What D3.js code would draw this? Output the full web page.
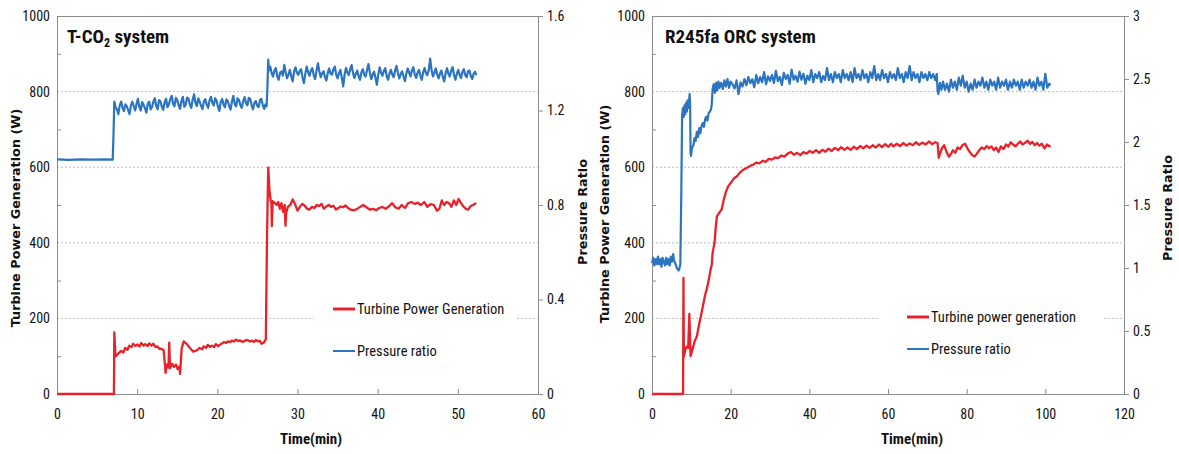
<!DOCTYPE html>
<html><head><meta charset="utf-8">
<script src="https://cdn.jsdelivr.net/npm/d3@7"></script>
<style>body{margin:0;background:#fff}svg{display:block}</style>
</head><body><svg id="c" width="1179" height="454"></svg>
<script>
// ---------- data ----------
const powerTicks = [0, 200, 400, 600, 800, 1000];
const powerMinorTicks = [100, 300, 500, 700, 900];
const gridTicks = [200, 400, 600, 800];
const tco2TimeTicks = [0, 10, 20, 30, 40, 50, 60];
const orcTimeTicks = [0, 20, 40, 60, 80, 100, 120];
const tco2RatioTicks = [0, 0.4, 0.8, 1.2, 1.6];
const orcRatioTicks = [0, 0.5, 1, 1.5, 2, 2.5, 3];
const tco2Legend = ["Turbine Power Generation", "Pressure ratio"];
const orcLegend = ["Turbine power generation", "Pressure ratio"];

// T-CO2: time (min), turbine power (W)
const tco2Power = [[0,0],[7.1,0],[7.15,163],[7.3,99],[7.6,106],[8.0,114],[8.3,110],[8.5,122],[8.8,117],[9.0,128],[9.3,124],[9.5,133],[9.8,127],[10.0,131],[10.3,126],[10.5,135],[10.8,128],[11.0,132],[11.3,127],[11.5,134],[11.8,128],[12.0,133],[12.3,124],[12.5,126],[12.8,119],[13.0,120],[13.3,116],[13.45,80],[13.55,56],[13.7,78],[13.9,70],[14.0,136],[14.1,68],[14.35,80],[14.6,72],[14.85,78],[15.05,66],[15.25,72],[15.35,53],[15.55,120],[15.8,139],[16.1,134],[16.5,124],[17.0,112],[17.4,115],[17.8,122],[18.1,118],[18.3,126],[18.6,122],[18.8,130],[19.1,125],[19.3,128],[19.6,124],[19.8,132],[20.1,127],[20.3,130],[20.6,134],[20.8,137],[21.1,135],[21.3,139],[21.6,137],[21.8,141],[22.1,139],[22.3,144],[22.6,140],[22.8,142],[23.1,138],[23.3,139],[23.6,143],[23.8,142],[24.1,139],[24.3,141],[24.6,138],[24.8,143],[25.1,139],[25.3,141],[25.5,133],[25.8,136],[26.05,145],[26.2,420],[26.35,599],[26.5,540],[26.65,512],[26.75,505],[26.8,444],[26.9,510],[27.2,505],[27.4,500],[27.6,508],[27.8,490],[28.0,505],[28.2,482],[28.4,500],[28.5,445],[28.6,480],[28.8,495],[29.1,500],[29.4,515],[29.7,502],[30.0,485],[30.3,495],[30.6,503],[30.9,498],[31.2,490],[31.5,488],[31.8,495],[32.1,492],[32.4,500],[32.7,497],[33.0,503],[33.3,490],[33.6,496],[33.9,500],[34.2,495],[34.5,498],[34.8,488],[35.1,492],[35.4,496],[35.7,494],[36.0,499],[36.3,492],[36.6,488],[37.0,486],[37.4,489],[37.8,495],[38.2,500],[38.6,494],[39.0,488],[39.4,490],[39.8,486],[40.2,492],[40.6,495],[41.0,490],[41.4,496],[41.8,505],[42.2,494],[42.6,490],[43.0,500],[43.4,492],[43.8,505],[44.2,508],[44.6,503],[45.0,506],[45.4,500],[45.8,508],[46.2,495],[46.6,502],[47.0,500],[47.4,485],[47.7,490],[48.0,512],[48.3,500],[48.6,508],[48.9,505],[49.2,495],[49.5,512],[49.8,500],[50.1,516],[50.4,505],[50.7,496],[51.0,490],[51.3,488],[51.6,497],[51.9,500],[52.3,505]];

// T-CO2: time (min), pressure ratio
const tco2Ratio = [[0,0.993],[1.5,0.991],[3,0.993],[4.5,0.992],[6,0.993],[6.95,0.992],[7.05,1.10],[7.15,1.238],[7.3,1.215],[7.475,1.205],[7.65,1.184],[7.825,1.222],[8.0,1.238],[8.175,1.212],[8.35,1.197],[8.525,1.226],[8.7,1.219],[8.875,1.201],[9.05,1.185],[9.225,1.222],[9.4,1.237],[9.575,1.218],[9.75,1.2],[9.925,1.228],[10.1,1.249],[10.275,1.214],[10.45,1.2],[10.625,1.236],[10.8,1.224],[10.975,1.209],[11.15,1.191],[11.325,1.229],[11.5,1.237],[11.675,1.205],[11.85,1.214],[12.025,1.238],[12.2,1.252],[12.375,1.22],[12.55,1.205],[12.725,1.244],[12.9,1.239],[13.075,1.216],[13.25,1.203],[13.425,1.235],[13.6,1.25],[13.775,1.214],[13.95,1.225],[14.125,1.247],[14.3,1.262],[14.475,1.229],[14.65,1.218],[14.825,1.253],[15.0,1.244],[15.175,1.222],[15.35,1.207],[15.525,1.24],[15.7,1.258],[15.875,1.216],[16.05,1.224],[16.225,1.255],[16.4,1.25],[16.575,1.225],[16.75,1.211],[16.925,1.246],[17.1,1.268],[17.275,1.232],[17.45,1.219],[17.625,1.251],[17.8,1.237],[17.975,1.22],[18.15,1.206],[18.325,1.238],[18.5,1.248],[18.675,1.224],[18.85,1.211],[19.025,1.243],[19.2,1.258],[19.375,1.233],[19.55,1.221],[19.725,1.252],[19.9,1.242],[20.075,1.217],[20.25,1.198],[20.425,1.236],[20.6,1.249],[20.775,1.225],[20.95,1.214],[21.125,1.247],[21.3,1.24],[21.475,1.219],[21.65,1.204],[21.825,1.238],[22.0,1.262],[22.175,1.226],[22.35,1.218],[22.525,1.252],[22.7,1.245],[22.875,1.222],[23.05,1.211],[23.225,1.24],[23.4,1.257],[23.575,1.231],[23.75,1.222],[23.925,1.254],[24.1,1.249],[24.275,1.223],[24.45,1.205],[24.625,1.233],[24.8,1.24],[24.975,1.22],[25.15,1.214],[25.325,1.245],[25.5,1.249],[25.675,1.221],[25.85,1.207],[26.0,1.226],[26.15,1.218],[26.25,1.30],[26.35,1.415],[26.45,1.37],[26.6,1.386],[26.775,1.358],[26.95,1.344],[27.125,1.37],[27.3,1.379],[27.475,1.345],[27.65,1.33],[27.825,1.36],[28.0,1.365],[28.175,1.348],[28.35,1.393],[28.525,1.362],[28.7,1.337],[28.875,1.352],[29.05,1.372],[29.225,1.344],[29.4,1.323],[29.575,1.366],[29.75,1.383],[29.925,1.36],[30.1,1.351],[30.275,1.368],[30.45,1.375],[30.625,1.34],[30.8,1.316],[30.975,1.356],[31.15,1.386],[31.325,1.362],[31.5,1.347],[31.675,1.37],[31.85,1.379],[32.025,1.349],[32.2,1.333],[32.375,1.37],[32.55,1.4],[32.725,1.365],[32.9,1.341],[33.075,1.358],[33.25,1.366],[33.425,1.342],[33.6,1.327],[33.775,1.359],[33.95,1.378],[34.125,1.356],[34.3,1.352],[34.475,1.374],[34.65,1.386],[34.825,1.353],[35.0,1.336],[35.175,1.358],[35.35,1.372],[35.525,1.34],[35.7,1.302],[35.875,1.352],[36.05,1.38],[36.225,1.36],[36.4,1.35],[36.575,1.375],[36.75,1.392],[36.925,1.358],[37.1,1.338],[37.275,1.356],[37.45,1.369],[37.625,1.345],[37.8,1.33],[37.975,1.362],[38.15,1.375],[38.325,1.352],[38.5,1.344],[38.675,1.371],[38.85,1.397],[39.025,1.36],[39.2,1.333],[39.375,1.351],[39.55,1.364],[39.725,1.34],[39.9,1.309],[40.075,1.352],[40.25,1.383],[40.425,1.36],[40.6,1.347],[40.775,1.368],[40.95,1.379],[41.125,1.346],[41.3,1.33],[41.475,1.357],[41.65,1.372],[41.825,1.352],[42.0,1.341],[42.175,1.369],[42.35,1.389],[42.525,1.358],[42.7,1.336],[42.875,1.355],[43.05,1.366],[43.225,1.344],[43.4,1.324],[43.575,1.356],[43.75,1.378],[43.925,1.36],[44.1,1.344],[44.275,1.37],[44.45,1.383],[44.625,1.352],[44.8,1.338],[44.975,1.36],[45.15,1.372],[45.325,1.348],[45.5,1.33],[45.675,1.362],[45.85,1.38],[46.025,1.358],[46.2,1.35],[46.375,1.372],[46.55,1.42],[46.725,1.37],[46.9,1.344],[47.075,1.36],[47.25,1.378],[47.425,1.352],[47.6,1.336],[47.775,1.357],[47.95,1.369],[48.125,1.342],[48.3,1.323],[48.475,1.358],[48.65,1.379],[48.825,1.355],[49.0,1.344],[49.175,1.37],[49.35,1.383],[49.525,1.35],[49.7,1.33],[49.875,1.356],[50.05,1.372],[50.225,1.35],[50.4,1.338],[50.575,1.364],[50.75,1.375],[50.925,1.35],[51.1,1.341],[51.275,1.366],[51.45,1.369],[51.625,1.346],[51.8,1.333],[51.975,1.356],[52.15,1.364],[52.3,1.35]];

// R245fa ORC: time (min), turbine power (W)
const orcPower = [[0,0],[7.9,0],[8.0,307],[8.1,99],[8.5,118],[8.8,125],[9.2,122],[9.5,212],[9.8,100],[10.3,118],[10.8,138],[11.4,152],[12.0,185],[12.6,215],[13.1,241],[13.5,262],[13.9,276],[14.4,300],[14.9,329],[15.2,342],[15.4,373],[15.9,400],[16.2,440],[16.5,470],[17.0,478],[17.7,488],[18.2,512],[18.8,535],[19.4,550],[20.0,558],[20.8,570],[21.6,576],[22.3,585],[23.0,592],[23.7,596],[24.4,600],[25.1,604],[25.8,607],[26.5,612],[27.3,610],[28.1,617],[28.9,614],[29.7,622],[30.5,620],[31.3,626],[32.1,624],[32.9,631],[33.7,628],[34.5,636],[35.3,640],[36.1,633],[36.9,638],[37.7,632],[38.5,640],[39.3,636],[40.1,643],[40.9,638],[41.7,645],[42.5,638],[43.3,646],[44.1,641],[44.9,649],[45.7,643],[46.5,651],[47.3,645],[48.1,653],[48.9,646],[49.7,652],[50.5,646],[51.3,654],[52.1,648],[52.9,656],[53.7,650],[54.5,657],[55.3,651],[56.1,658],[56.9,652],[57.7,660],[58.5,653],[59.3,661],[60.1,654],[60.8,662],[61.4,655],[62.2,662],[63.0,656],[63.9,664],[64.7,657],[65.5,663],[66.3,658],[67.1,666],[67.9,659],[68.7,665],[69.6,660],[70.4,668],[71.2,661],[72.0,666],[72.6,664],[72.9,625],[73.2,635],[73.7,650],[74.3,658],[74.9,640],[75.5,628],[76.0,635],[76.5,645],[77.1,638],[77.7,652],[78.3,648],[78.9,658],[79.6,662],[80.2,650],[80.8,640],[81.4,632],[82.0,628],[82.6,636],[83.2,645],[83.8,652],[84.5,648],[85.1,656],[85.7,650],[86.3,655],[86.9,645],[87.5,652],[88.1,640],[88.7,655],[89.4,648],[90.0,660],[90.6,655],[91.2,666],[91.8,660],[92.4,655],[93.0,662],[93.6,668],[94.2,660],[94.9,665],[95.5,670],[96.1,662],[96.7,667],[97.3,658],[97.9,664],[98.5,657],[99.1,662],[99.8,650],[100.4,660],[101.0,655],[101.3,658]];

// R245fa ORC: time (min), pressure ratio
const orcRatio = [[0,1.04],[0.3,1.08],[0.6,1.02],[0.9,1.07],[1.2,1.03],[1.5,1.09],[1.8,1.03],[2.1,1.07],[2.4,1.01],[2.7,1.08],[3.0,1.05],[3.3,1.02],[3.6,1.08],[3.9,1.03],[4.2,1.07],[4.5,1.02],[4.8,1.09],[5.1,1.05],[5.4,1.11],[5.6,1.06],[5.9,1.04],[6.2,1.01],[6.5,0.99],[6.8,0.98],[7.0,1.00],[7.2,1.03],[7.45,1.6],[7.65,2.2],[7.85,2.27],[8.05,2.20],[8.25,2.29],[8.45,2.22],[8.65,2.31],[8.85,2.24],[9.05,2.33],[9.3,2.27],[9.55,2.38],[9.7,2.30],[9.8,1.92],[9.9,1.89],[10.2,1.96],[10.5,1.97],[10.8,2.03],[11.1,2.01],[11.4,2.08],[11.7,2.04],[12.0,2.11],[12.3,2.07],[12.6,2.13],[12.9,2.15],[13.2,2.12],[13.5,2.18],[13.8,2.20],[14.1,2.17],[14.4,2.23],[14.7,2.24],[15.0,2.26],[15.2,2.30],[15.4,2.42],[15.7,2.46],[16.0,2.39],[16.3,2.47],[16.6,2.41],[16.9,2.48],[17.2,2.43],[17.6,2.47],[18.0,2.42],[18.4,2.49],[18.8,2.44],[19.2,2.50],[19.6,2.43],[20.0,2.48],[20.5,2.457],[21.0,2.425],[21.5,2.489],[22.0,2.38],[22.5,2.473],[23.0,2.44],[23.5,2.5],[24.0,2.45],[24.5,2.515],[25.0,2.467],[25.5,2.499],[26.0,2.435],[26.5,2.531],[27.0,2.467],[27.5,2.515],[28.0,2.474],[28.5,2.554],[29.0,2.458],[29.5,2.522],[30.0,2.484],[30.5,2.532],[31.0,2.468],[31.5,2.564],[32.0,2.484],[32.5,2.516],[33.0,2.452],[33.5,2.548],[34.0,2.5],[34.5,2.532],[35.0,2.462],[35.5,2.574],[36.0,2.494],[36.5,2.526],[37.0,2.478],[37.5,2.558],[38.0,2.494],[38.5,2.542],[39.0,2.462],[39.5,2.526],[40.0,2.491],[40.5,2.571],[41.0,2.475],[41.5,2.539],[42.0,2.507],[42.5,2.555],[43.0,2.475],[43.5,2.523],[44.0,2.491],[44.5,2.587],[45.0,2.491],[45.5,2.539],[46.0,2.475],[46.5,2.555],[47.0,2.507],[47.5,2.539],[48.0,2.475],[48.5,2.571],[49.0,2.507],[49.5,2.539],[50.0,2.491],[50.5,2.555],[51.0,2.475],[51.5,2.587],[52.0,2.507],[52.5,2.539],[53.0,2.491],[53.5,2.571],[54.0,2.507],[54.5,2.539],[55.0,2.475],[55.5,2.555],[56.0,2.507],[56.5,2.603],[57.0,2.491],[57.5,2.539],[58.0,2.491],[58.5,2.571],[59.0,2.507],[59.5,2.539],[60.0,2.475],[60.5,2.555],[61.0,2.507],[61.5,2.539],[62.0,2.491],[62.5,2.587],[63.0,2.507],[63.5,2.539],[64.0,2.475],[64.5,2.555],[65.0,2.507],[65.5,2.603],[66.0,2.491],[66.5,2.555],[67.0,2.507],[67.5,2.539],[68.0,2.475],[68.5,2.555],[69.0,2.507],[69.5,2.539],[70.0,2.491],[70.5,2.555],[71.0,2.507],[71.5,2.539],[72.0,2.491],[72.4,2.54],[72.6,2.41],[72.8,2.38],[73.2,2.47],[73.6,2.415],[74.0,2.479],[74.5,2.415],[75.0,2.463],[75.5,2.399],[76.0,2.495],[76.5,2.431],[77.0,2.479],[77.5,2.415],[78.0,2.511],[78.5,2.447],[79.0,2.527],[79.5,2.431],[80.0,2.479],[80.5,2.399],[81.0,2.463],[81.5,2.415],[82.0,2.495],[82.5,2.431],[83.0,2.479],[83.5,2.447],[84.0,2.511],[84.5,2.431],[85.0,2.479],[85.5,2.415],[86.0,2.495],[86.5,2.447],[87.0,2.479],[87.5,2.415],[88.0,2.511],[88.5,2.431],[89.0,2.479],[89.5,2.447],[90.0,2.495],[90.5,2.415],[91.0,2.479],[91.5,2.431],[92.0,2.495],[92.5,2.447],[93.0,2.479],[93.5,2.415],[94.0,2.495],[94.5,2.431],[95.0,2.479],[95.5,2.447],[96.0,2.495],[96.5,2.431],[97.0,2.479],[97.5,2.415],[98.0,2.511],[98.5,2.447],[99.0,2.479],[99.5,2.415],[100.0,2.54],[100.5,2.431],[101.0,2.463],[101.3,2.45]];

// ---------- drawing ----------
const svg = d3.select("#c");
const NARROW = "'Liberation Sans Narrow','Arial Narrow','Roboto Condensed',sans-serif";
const WIDEBOLD = "'DejaVu Sans',Verdana,sans-serif";
const AXIS = "#8c8c8c", RED = "#e8222a", BLUE = "#2b74c2";

function drawPanel(o) {
  const g = svg.append("g");
  const x = d3.scaleLinear().domain([0, o.tMax]).range([o.left, o.right]);
  const y = d3.scaleLinear().domain([0, 1000]).range([o.bottom, o.top]);
  const yr = d3.scaleLinear().domain([0, o.rMax]).range([o.bottom, o.top]);

  g.selectAll("line.grid").data(gridTicks).join("line").attr("class", "grid")
    .attr("x1", o.left).attr("x2", o.right).attr("y1", d => y(d)).attr("y2", d => y(d))
    .attr("stroke", "#bcbcbc").attr("stroke-width", 1).attr("stroke-dasharray", "2,2");

  g.append("rect").attr("x", o.lg.boxX).attr("y", o.lg.boxY).attr("width", o.lg.boxW).attr("height", o.lg.boxH).attr("fill", "#fff");

  g.append("line").attr("x1", o.left).attr("x2", o.right).attr("y1", o.top + 0.5).attr("y2", o.top + 0.5).attr("stroke", AXIS);

  const aL = g.append("g").attr("transform", `translate(${o.left},0)`)
    .call(d3.axisLeft(y).tickValues(powerTicks).tickSize(0).tickPadding(7).tickFormat(d3.format("d")));
  aL.select(".domain").attr("stroke", AXIS);
  const aLm = g.append("g").attr("transform", `translate(${o.left},0)`)
    .call(d3.axisRight(y).tickValues(powerMinorTicks).tickSize(4).tickFormat(""));
  aLm.select(".domain").remove();
  aLm.selectAll("line").attr("stroke", AXIS);

  const aB = g.append("g").attr("transform", `translate(0,${o.bottom})`)
    .call(d3.axisBottom(x).tickValues(o.tTicks).tickSize(0).tickFormat(d3.format("d")));
  aB.select(".domain").attr("stroke", AXIS);
  aB.selectAll("text").attr("dy", null).attr("y", 25);
  const aBm = g.append("g").attr("transform", `translate(0,${o.bottom})`)
    .call(d3.axisTop(x).tickValues(o.tTicks.slice(1, -1)).tickSize(5).tickFormat(""));
  aBm.select(".domain").remove();
  aBm.selectAll("line").attr("stroke", AXIS);

  const aR = g.append("g").attr("transform", `translate(${o.right},0)`)
    .call(d3.axisRight(yr).tickValues(o.rTicks).tickSize(5).tickPadding(4).tickFormat(d3.format("~g")));
  aR.select(".domain").attr("stroke", AXIS);
  aR.selectAll("line").attr("stroke", AXIS);

  g.selectAll(".tick text").attr("font-family", NARROW).attr("font-size", 14).attr("fill", "#111");

  const lineP = d3.line().x(d => x(d[0])).y(d => y(d[1]));
  const lineR = d3.line().x(d => x(d[0])).y(d => yr(d[1]));
  g.append("path").datum(o.ratio).attr("d", lineR).attr("fill", "none").attr("stroke", BLUE).attr("stroke-width", 2.2).attr("stroke-linejoin", "round");
  g.append("path").datum(o.power).attr("d", lineP).attr("fill", "none").attr("stroke", RED).attr("stroke-width", 2.3).attr("stroke-linejoin", "round");

  [[o.lg.y1, RED, 3, o.legend[0]], [o.lg.y2, BLUE, 2, o.legend[1]]].forEach(([yy, c, w, t]) => {
    g.append("line").attr("x1", o.lg.lx).attr("x2", o.lg.lx + 22).attr("y1", yy).attr("y2", yy).attr("stroke", c).attr("stroke-width", w);
    g.append("text").attr("x", o.lg.lx + 24).attr("y", yy + 5).attr("font-family", NARROW).attr("font-size", 14.5).attr("fill", "#111").text(t);
  });

  const tt = g.append("text").attr("x", o.titleX).attr("y", 43).attr("font-family", NARROW).attr("font-weight", "bold").attr("font-size", 19).attr("fill", "#111");
  o.title.forEach(([s, sub], i) => {
    const ts = tt.append("tspan").text(s);
    if (sub) ts.attr("font-size", 12).attr("dy", 4); else if (i > 0) ts.attr("dy", -4);
  });

  g.append("text").attr("transform", `translate(${o.yTitleX},${o.yTitleY}) rotate(-90)`).attr("text-anchor", "middle")
    .attr("font-family", WIDEBOLD).attr("font-weight", "bold").attr("font-size", 12.8).attr("fill", "#111").text("Turbine Power Generation (W)");
  g.append("text").attr("transform", `translate(${o.rTitleX},${o.rTitleY}) rotate(-90)`).attr("text-anchor", "middle")
    .attr("font-family", WIDEBOLD).attr("font-weight", "bold").attr("font-size", 12.8).attr("fill", "#111").text("Pressure Ratio");
  g.append("text").attr("x", o.xTitleX).attr("y", 444).attr("text-anchor", "middle")
    .attr("font-family", NARROW).attr("font-weight", "bold").attr("font-size", 15).attr("fill", "#111").text("Time(min)");
}

drawPanel({
  left: 57, right: 538, top: 16, bottom: 394, tMax: 60, tTicks: tco2TimeTicks,
  rMax: 1.6, rTicks: tco2RatioTicks, power: tco2Power, ratio: tco2Ratio, legend: tco2Legend,
  lg: { boxX: 314, boxY: 292, boxW: 203, boxH: 75, lx: 333, y1: 309, y2: 351 },
  title: [["T-CO"], ["2", true], [" system"]], titleX: 67,
  yTitleX: 20, yTitleY: 218, rTitleX: 587, rTitleY: 212, xTitleX: 311
});
drawPanel({
  left: 652, right: 1124, top: 16, bottom: 394, tMax: 120, tTicks: orcTimeTicks,
  rMax: 3, rTicks: orcRatioTicks, power: orcPower, ratio: orcRatio, legend: orcLegend,
  lg: { boxX: 880, boxY: 298, boxW: 223, boxH: 70, lx: 907, y1: 317, y2: 349 },
  title: [["R245fa ORC system"]], titleX: 665,
  yTitleX: 609, yTitleY: 214, rTitleX: 1172, rTitleY: 208, xTitleX: 912
});
</script>
</body></html>
